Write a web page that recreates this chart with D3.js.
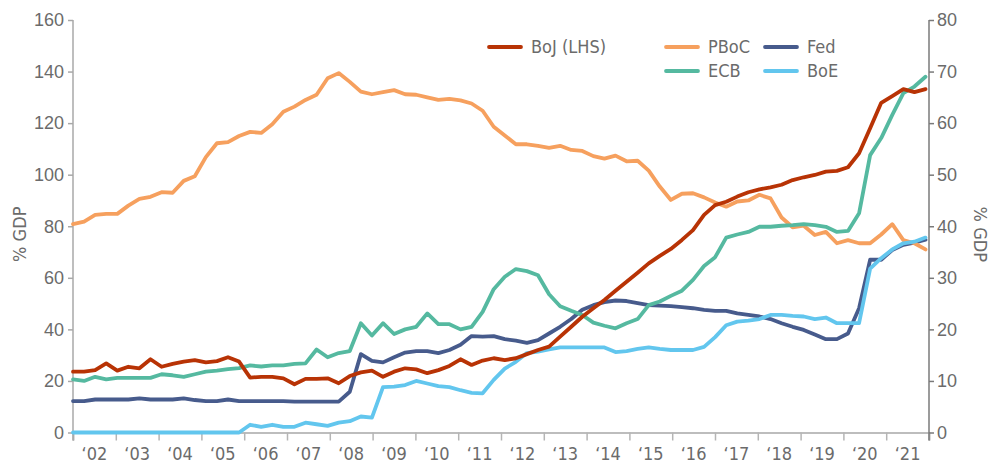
<!DOCTYPE html>
<html>
<head>
<meta charset="utf-8">
<script src="https://cdn.jsdelivr.net/npm/d3@7"></script>
<style>
  body { margin: 0; background: #fff; }
  svg { display: block; font-family: "Liberation Sans Narrow", "DejaVu Sans Condensed", "Roboto", sans-serif; }
</style>
</head>
<body>
<div id="chart"></div>
<script>
// quarterly balance sheets, % GDP (BoJ on left axis, others on right axis)
const years = d3.range(2002, 2022);

const boj = [23.6, 23.6, 24.2, 26.8, 24.0, 25.5, 24.9, 28.4, 25.5, 26.6, 27.5, 28.1, 27.2, 27.7, 29.2, 27.5, 21.3, 21.6, 21.6, 21.0,
  18.7, 20.8, 20.8, 21.0, 19.1, 21.9, 23.3, 24.0, 21.6, 23.6, 24.9, 24.5, 23.0, 24.2, 25.8, 28.4, 26.2, 27.9, 28.8, 28.1,
  28.8, 30.4, 32.0, 33.3, 37.2, 41.0, 44.9, 48.2, 51.4, 55.0, 58.5, 62.0, 65.6, 68.5, 71.2, 74.7, 78.5, 84.4, 88.2,
  89.5, 91.5, 93.2, 94.3, 95.1, 96.1, 97.9, 99.0, 99.9, 101.2, 101.5, 102.9, 108.3, 118.0, 127.9, 130.5, 133.2, 132.0, 133.2];

const pboc = [40.4, 40.9, 42.2, 42.4, 42.4, 44.0, 45.3, 45.7, 46.6, 46.5, 48.8, 49.7, 53.4, 56.1, 56.3, 57.5, 58.3, 58.1, 59.8, 62.2,
  63.2, 64.5, 65.5, 68.7, 69.7, 68.0, 66.1, 65.6, 66.0, 66.4, 65.6, 65.5, 65.0, 64.5, 64.7, 64.4, 63.8, 62.4, 59.3, 57.6,
  55.9, 55.9, 55.6, 55.2, 55.6, 54.8, 54.6, 53.6, 53.1, 53.7, 52.6, 52.7, 50.8, 47.7, 45.1, 46.3, 46.4, 45.6, 44.6,
  43.8, 44.8, 45.0, 46.1, 45.4, 41.7, 39.8, 40.1, 38.3, 38.9, 36.7, 37.3, 36.7, 36.7, 38.4, 40.4, 37.3, 36.7, 35.5];

const fed = [6.1, 6.1, 6.4, 6.4, 6.4, 6.4, 6.6, 6.4, 6.4, 6.4, 6.6, 6.3, 6.1, 6.1, 6.4, 6.1, 6.1, 6.1, 6.1, 6.1,
  6.0, 6.0, 6.0, 6.0, 6.0, 7.9, 15.2, 13.9, 13.6, 14.6, 15.5, 15.8, 15.8, 15.4, 16.0, 17.0, 18.7, 18.6, 18.7, 18.1,
  17.8, 17.4, 17.9, 19.2, 20.5, 22.0, 23.8, 24.7, 25.3, 25.6, 25.5, 25.1, 24.7, 24.6, 24.5, 24.3, 24.1, 23.8, 23.6,
  23.6, 23.1, 22.8, 22.5, 22.0, 21.2, 20.5, 19.9, 19.0, 18.1, 18.1, 19.2, 24.1, 33.5, 33.5, 35.4, 36.4, 36.8, 37.4];

const ecb = [10.3, 10.0, 10.8, 10.3, 10.6, 10.6, 10.6, 10.6, 11.3, 11.1, 10.8, 11.3, 11.8, 12.0, 12.3, 12.5, 13.0, 12.8, 13.0, 13.0,
  13.3, 13.4, 16.1, 14.6, 15.4, 15.8, 21.2, 18.8, 21.2, 19.1, 20.0, 20.5, 23.1, 21.0, 21.0, 20.0, 20.5, 23.4, 27.8, 30.2,
  31.7, 31.3, 30.5, 26.8, 24.5, 23.6, 22.8, 21.3, 20.7, 20.2, 21.2, 22.0, 24.7, 25.4, 26.5, 27.5, 29.6, 32.3, 34.0,
  37.8, 38.4, 38.9, 39.9, 39.9, 40.1, 40.2, 40.4, 40.2, 39.9, 38.9, 39.1, 42.5, 53.8, 57.1, 61.6, 65.8, 67.1, 69.0];

const boe = [0, 0, 0, 0, 0, 0, 0, 0, 0, 0, 0, 0, 0, 0, 0, 0, 1.5, 1.1, 1.5, 1.1,
  1.1, 1.9, 1.6, 1.3, 1.9, 2.2, 3.1, 2.9, 8.8, 8.9, 9.2, 10.0, 9.5, 9.0, 8.8, 8.2, 7.7, 7.6, 10.2, 12.4,
  13.7, 15.4, 15.7, 16.1, 16.5, 16.5, 16.5, 16.5, 16.5, 15.6, 15.8, 16.2, 16.5, 16.2, 16.0, 16.0, 16.0, 16.6, 18.5,
  20.8, 21.5, 21.7, 22.0, 22.8, 22.8, 22.6, 22.5, 22.0, 22.3, 21.2, 21.2, 21.2, 31.8, 33.8, 35.5, 36.7, 37.0, 37.8];

const leftTicks = [0, 20, 40, 60, 80, 100, 120, 140, 160];
const rightTicks = [0, 10, 20, 30, 40, 50, 60, 70, 80];

const series = [
  { name: "Fed", values: fed, color: "#475b8c", axis: "right" },
  { name: "PBoC", values: pboc, color: "#f6a05e", axis: "right" },
  { name: "ECB", values: ecb, color: "#55b9a0", axis: "right" },
  { name: "BoE", values: boe, color: "#62c6ee", axis: "right" },
  { name: "BoJ (LHS)", values: boj, color: "#b83305", axis: "left" }
];

const width = 1000;
const height = 464;
const margin = { top: 20, right: 71, bottom: 32, left: 73 };
const textColor = "#6b6b6b";

const svg = d3.select("#chart")
  .append("svg")
  .attr("width", width)
  .attr("height", height);

const plotBottom = height - margin.bottom + 0.5;

// scales
const xYear = d3.scaleLinear()
  .domain([2002, 2022])
  .range([margin.left, width - margin.right]);

const x = d3.scaleLinear()
  .domain([0, boj.length - 1])
  .range([margin.left, width - margin.right - 3.5]);

const yLeft = d3.scaleLinear()
  .domain([0, 160])
  .range([plotBottom, margin.top]);

const yRight = d3.scaleLinear()
  .domain([0, 80])
  .range([plotBottom, margin.top]);

// x axis
const xAxis = svg.append("g")
  .attr("transform", `translate(0, ${plotBottom})`)
  .call(d3.axisBottom(xYear)
    .tickValues(d3.range(2002, 2023))
    .tickSize(8)
    .tickFormat(""));
xAxis.select(".domain").attr("stroke", "#a8a8a8").attr("stroke-width", 1.5);
xAxis.selectAll(".tick line").attr("stroke", "#b5b5b5").attr("stroke-width", 1.5);

svg.append("g")
  .selectAll("text")
  .data(years)
  .join("text")
    .attr("x", d => xYear(d + 0.5))
    .attr("y", 460)
    .attr("text-anchor", "middle")
    .attr("fill", textColor)
    .attr("font-size", 18)
    .text(d => "\u2018" + String(d).slice(2));

// left axis
const leftAxis = svg.append("g")
  .attr("transform", `translate(${margin.left}, 0)`)
  .call(d3.axisLeft(yLeft).tickValues(leftTicks).tickSize(5).tickPadding(4));
leftAxis.select(".domain").remove();
leftAxis.selectAll(".tick line").attr("stroke", "#a8a8a8").attr("stroke-width", 1.5);
leftAxis.selectAll(".tick text").attr("fill", textColor).attr("font-size", 18).attr("font-family", null);
leftAxis.append("line")
  .attr("y1", margin.top).attr("y2", plotBottom + 8)
  .attr("stroke", "#a8a8a8").attr("stroke-width", 1.5);

// right axis
const rightAxis = svg.append("g")
  .attr("transform", `translate(${width - margin.right}, 0)`)
  .call(d3.axisRight(yRight).tickValues(rightTicks).tickSize(5).tickPadding(3));
rightAxis.select(".domain").remove();
rightAxis.selectAll(".tick line").attr("stroke", "#7a7a7a").attr("stroke-width", 1.5);
rightAxis.selectAll(".tick text").attr("fill", textColor).attr("font-size", 18).attr("font-family", null);
rightAxis.append("line")
  .attr("y1", margin.top).attr("y2", plotBottom + 8)
  .attr("stroke", "#7a7a7a").attr("stroke-width", 1.5);

// axis titles
svg.append("text")
  .attr("transform", `translate(26, ${yLeft(80) + 8}) rotate(-90)`)
  .attr("text-anchor", "middle")
  .attr("fill", textColor)
  .attr("font-size", 18)
  .text("% GDP");

svg.append("text")
  .attr("transform", `translate(974, ${yRight(40) + 8}) rotate(90)`)
  .attr("text-anchor", "middle")
  .attr("fill", textColor)
  .attr("font-size", 18)
  .text("% GDP");

// lines
svg.append("g")
  .selectAll("path")
  .data(series)
  .join("path")
    .attr("fill", "none")
    .attr("stroke", d => d.color)
    .attr("stroke-width", 3.8)
    .attr("stroke-linejoin", "round")
    .attr("stroke-linecap", "round")
    .attr("d", s => {
      const yScale = s.axis === "left" ? yLeft : yRight;
      return d3.line().x((d, i) => x(i)).y(d => yScale(d))(s.values);
    });

// legend
const legendItems = [
  { name: "BoJ (LHS)", color: "#b83305", lx: 489, ly: 47 },
  { name: "PBoC", color: "#f6a05e", lx: 666, ly: 47 },
  { name: "Fed", color: "#475b8c", lx: 765, ly: 47 },
  { name: "ECB", color: "#55b9a0", lx: 666, ly: 71 },
  { name: "BoE", color: "#62c6ee", lx: 765, ly: 71 }
];

const legend = svg.append("g")
  .selectAll("g")
  .data(legendItems)
  .join("g")
    .attr("transform", d => `translate(${d.lx}, ${d.ly})`);

legend.append("line")
  .attr("x1", 0).attr("x2", 32)
  .attr("stroke", d => d.color)
  .attr("stroke-width", 3.8)
  .attr("stroke-linecap", "round");

legend.append("text")
  .attr("x", 42)
  .attr("dy", "0.35em")
  .attr("fill", textColor)
  .attr("font-size", 18)
  .text(d => d.name);
</script>
</body>
</html>
